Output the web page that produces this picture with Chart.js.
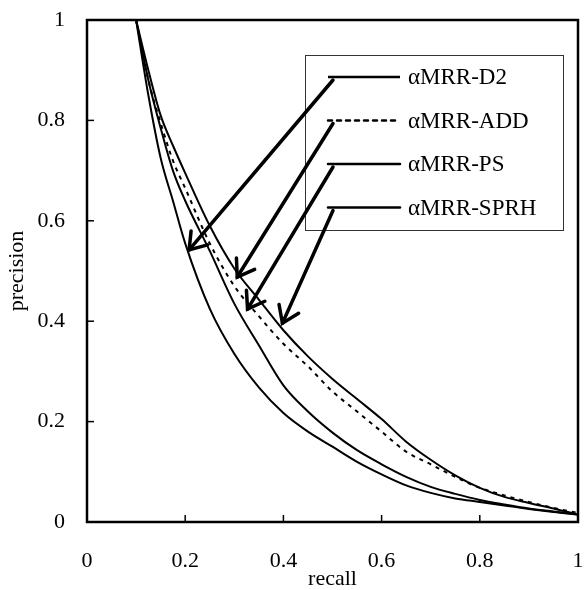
<!DOCTYPE html>
<html>
<head>
<meta charset="utf-8">
<script src="https://cdn.jsdelivr.net/npm/chart.js@4/dist/chart.umd.min.js"></script>
<style>
  html, body { margin: 0; padding: 0; background: #fff; }
  #wrap { width: 586px; height: 590px; }
</style>
</head>
<body>
<div id="wrap"><canvas id="pr"></canvas></div>
<script>
// --- data ---
const recall = [0.1, 0.125, 0.15, 0.175, 0.2, 0.25, 0.3, 0.35, 0.4, 0.45, 0.5, 0.55, 0.6, 0.65, 0.7, 0.75, 0.8, 0.85, 0.9, 0.95, 1.0];
const precD2   = [1, 0.85, 0.725, 0.64, 0.555, 0.425, 0.335, 0.268, 0.217, 0.18, 0.15, 0.12, 0.095, 0.073, 0.058, 0.047, 0.04, 0.033, 0.026, 0.02, 0.015];
const precADD  = [1, 0.88, 0.795, 0.72, 0.665, 0.555, 0.47, 0.41, 0.355, 0.31, 0.26, 0.22, 0.18, 0.14, 0.115, 0.09, 0.068, 0.053, 0.04, 0.028, 0.018];
const precPS   = [1, 0.88, 0.785, 0.70, 0.64, 0.54, 0.435, 0.352, 0.272, 0.22, 0.178, 0.143, 0.115, 0.09, 0.07, 0.056, 0.044, 0.035, 0.027, 0.021, 0.015];
const precSPRH = [1, 0.90, 0.81, 0.75, 0.695, 0.59, 0.505, 0.443, 0.382, 0.33, 0.285, 0.245, 0.205, 0.16, 0.124, 0.093, 0.068, 0.05, 0.038, 0.027, 0.015];
const seriesNames = ['\u03b1MRR-D2', '\u03b1MRR-ADD', '\u03b1MRR-PS', '\u03b1MRR-SPRH'];
const xTicks = [0, 0.2, 0.4, 0.6, 0.8, 1];
const yTicks = [0, 0.2, 0.4, 0.6, 0.8, 1];
// arrow tips (recall, precision) for each legend entry
const arrowTips = [[0.208, 0.542], [0.306, 0.488], [0.327, 0.424], [0.398, 0.396]];

const FONT = "'Liberation Serif', 'Times New Roman', serif";

const pts = arr => arr.map((p, i) => ({ x: recall[i], y: p }));
const ds = (label, arr, dash) => ({
    label, data: pts(arr), borderColor: '#000', borderWidth: 2,
    borderDash: dash || [], pointRadius: 0, cubicInterpolationMode: 'monotone', fill: false
});

// frame, inner ticks, legend box and arrows
const extras = {
    id: 'extras',
    afterDatasetsDraw(chart) {
        const { ctx, chartArea: a, scales: { x, y } } = chart;
        ctx.save();
        ctx.strokeStyle = '#000';
        ctx.lineWidth = 2.5;
        ctx.strokeRect(a.left, a.top, a.right - a.left, a.bottom - a.top);

        ctx.lineWidth = 1.5;
        xTicks.slice(1, -1).forEach(v => {
            const px = x.getPixelForValue(v);
            ctx.beginPath(); ctx.moveTo(px, a.bottom); ctx.lineTo(px, a.bottom - 7); ctx.stroke();
        });
        yTicks.slice(1, -1).forEach(v => {
            const py = y.getPixelForValue(v);
            ctx.beginPath(); ctx.moveTo(a.left, py); ctx.lineTo(a.left + 7, py); ctx.stroke();
        });

        // legend
        const bx = a.left + 218, by = a.top + 35, bw = 258, bh = 175;
        ctx.lineWidth = 1;
        ctx.strokeStyle = '#333';
        ctx.strokeRect(bx + 0.5, by + 0.5, bw, bh);
        ctx.font = '23px ' + FONT;
        ctx.fillStyle = '#000';
        ctx.textBaseline = 'middle';
        chart.data.datasets.forEach((d, i) => {
            const ry = by + 22 + i * 43.5;
            ctx.strokeStyle = '#000';
            ctx.lineWidth = 2.5;
            ctx.setLineDash(d.borderDash);
            ctx.beginPath(); ctx.moveTo(bx + 23, ry); ctx.lineTo(bx + 95, ry); ctx.stroke();
            ctx.setLineDash([]);
            ctx.fillText(d.label, bx + 103, ry + 1);

            // arrow
            const sx = bx + 28, sy = ry + 3;
            const tx = x.getPixelForValue(arrowTips[i][0]);
            const ty = y.getPixelForValue(arrowTips[i][1]);
            const ang = Math.atan2(ty - sy, tx - sx);
            ctx.lineWidth = 3.5;
            ctx.lineCap = 'round';
            ctx.beginPath(); ctx.moveTo(sx, sy); ctx.lineTo(tx, ty); ctx.stroke();
            const L = 19, h = 0.6;
            ctx.beginPath();
            ctx.moveTo(tx - L * Math.cos(ang - h), ty - L * Math.sin(ang - h));
            ctx.lineTo(tx, ty);
            ctx.lineTo(tx - L * Math.cos(ang + h), ty - L * Math.sin(ang + h));
            ctx.stroke();
        });
        ctx.restore();
    }
};

new Chart(document.getElementById('pr'), {
    type: 'line',
    data: {
        datasets: [
            ds(seriesNames[0], precD2),
            ds(seriesNames[1], precADD, [4, 5]),
            ds(seriesNames[2], precPS),
            ds(seriesNames[3], precSPRH)
        ]
    },
    options: {
        responsive: true, maintainAspectRatio: false, animation: false,
        layout: { padding: { left: 0, right: 8, top: 20, bottom: 0 } },
        plugins: { legend: { display: false }, tooltip: { enabled: false } },
        scales: {
            x: {
                type: 'linear', min: 0, max: 1,
                grid: { display: false, drawTicks: false },
                border: { display: false },
                afterBuildTicks: s => { s.ticks = xTicks.map(v => ({ value: v })); },
                afterFit: s => { s.height = 68; s.paddingLeft = 0; s.paddingRight = 0; },
                ticks: { color: '#000', padding: 26, maxRotation: 0, callback: v => String(v), font: { family: FONT, size: 22 } },
                title: { display: true, text: 'recall', color: '#000', padding: { top: 0, bottom: 0 }, font: { family: FONT, size: 22, lineHeight: 1 } }
            },
            y: {
                min: 0, max: 1,
                grid: { display: false, drawTicks: false },
                border: { display: false },
                afterBuildTicks: s => { s.ticks = yTicks.map(v => ({ value: v })); },
                afterFit: s => { s.width = 87; s.paddingTop = 0; s.paddingBottom = 0; },
                ticks: { color: '#000', padding: 22, callback: v => String(v), font: { family: FONT, size: 22 } },
                title: { display: true, text: 'precision', color: '#000', padding: { top: 6, bottom: 0 }, font: { family: FONT, size: 22, lineHeight: 1 } }
            }
        }
    },
    plugins: [extras]
});
</script>
</body>
</html>
